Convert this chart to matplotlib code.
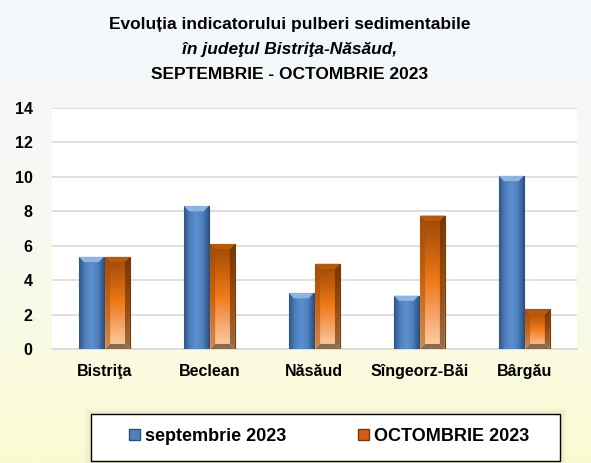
import numpy as np
import matplotlib.pyplot as plt
from matplotlib.colors import LinearSegmentedColormap
from matplotlib.patches import Patch, Rectangle

plt.rcParams['font.family'] = ['Liberation Sans', 'DejaVu Sans']

categories = ['Bistriţa', 'Beclean', 'Năsăud', 'Sîngeorz-Băi', 'Bârgău']
sept = [5.35, 8.3, 3.25, 3.1, 10.05]
octo = [5.35, 6.1, 4.95, 7.75, 2.3]
labels = ['septembrie 2023', 'OCTOMBRIE 2023']

fig = plt.figure(figsize=(5.91, 4.63), dpi=100)

# background gradient: light blue-white at top to pale yellow at bottom
bg = fig.add_axes([0, 0, 1, 1], zorder=-10)
grad = np.linspace(0, 1, 256).reshape(-1, 1)
bg_cmap = LinearSegmentedColormap.from_list('bg', ['#f4f7fc', '#f7f9f2', '#fbfbd2'])
bg.imshow(grad, aspect='auto', cmap=bg_cmap, extent=[0, 1, 0, 1])
bg.axis('off')

ax = fig.add_axes([0.088, 0.246, 0.888, 0.521])
ax.set_facecolor('white')
x = np.arange(len(categories))
w = 0.235
b1 = ax.bar(x - 0.125, sept, w, color='#4f81bd', edgecolor='#2c4d75', linewidth=0.8, zorder=3)
b2 = ax.bar(x + 0.125, octo, w, color='#e46c0a', edgecolor='#7a3a06', linewidth=0.8, zorder=3)

blue_cmap = LinearSegmentedColormap.from_list('bl', ['#2f5588', '#4f81bd', '#5b8fd0', '#4f81bd', '#2f5588'])
orange_v = LinearSegmentedColormap.from_list('or', ['#9a4a08', '#c75f0c', '#f07a18', '#f6a468', '#fcd0a8'])

for bar in b1:
    x0, h, bw = bar.get_x(), bar.get_height(), bar.get_width()
    img = ax.imshow(np.linspace(0, 1, 64).reshape(1, -1), cmap=blue_cmap, aspect='auto',
                    extent=[x0, x0 + bw, 0, h], zorder=3.5)
    img.set_clip_path(bar)
    # top bevel
    ax.fill([x0, x0 + bw, x0 + bw * 0.8, x0 + bw * 0.2], [h, h, h - 0.3, h - 0.3],
            color='#8fb4e3', zorder=4, lw=0)

for bar in b2:
    x0, h, bw = bar.get_x(), bar.get_height(), bar.get_width()
    img = ax.imshow(np.linspace(0, 1, 64).reshape(-1, 1), cmap=orange_v, aspect='auto',
                    extent=[x0, x0 + bw, 0, h], origin='upper', zorder=3.5)
    img.set_clip_path(bar)
    # darker side bevels
    ax.fill([x0, x0 + bw * 0.2, x0 + bw * 0.2, x0], [0, 0.3, h - 0.3, h],
            color='#a8500a', alpha=0.55, zorder=4, lw=0)
    ax.fill([x0 + bw, x0 + bw * 0.8, x0 + bw * 0.8, x0 + bw], [0, 0.3, h - 0.3, h],
            color='#5a2a04', alpha=0.6, zorder=4, lw=0)
    ax.fill([x0, x0 + bw, x0 + bw * 0.8, x0 + bw * 0.2], [h, h, h - 0.3, h - 0.3],
            color='#b85a0c', zorder=4, lw=0)
    ax.fill([x0, x0 + bw, x0 + bw * 0.8, x0 + bw * 0.2], [0, 0, 0.3, 0.3],
            color='#8a6a50', zorder=4, lw=0)

ax.set_xlim(-0.5, len(categories) - 0.5)
ax.set_ylim(0, 14)
ax.set_yticks(range(0, 15, 2))
ax.yaxis.grid(True, color='#d9d9d9', linewidth=1.2, zorder=0)
ax.set_axisbelow(True)
for s in ['top', 'right', 'left']:
    ax.spines[s].set_visible(False)
ax.spines['bottom'].set_color('#d9d9d9')
ax.spines['bottom'].set_linewidth(1.2)
ax.tick_params(length=0)
ax.set_xticks(x)
ax.set_xticklabels(categories, fontsize=11.5, fontweight='bold')
ax.tick_params(axis='x', pad=11)
ax.tick_params(axis='y', pad=14)
for t in ax.get_yticklabels():
    t.set_fontsize(11.5)
    t.set_fontweight('bold')

fig.text(0.49, 0.947, 'Evoluția indicatorului pulberi sedimentabile', ha='center', va='center',
         fontsize=12.5, fontweight='bold')
fig.text(0.49, 0.893, 'în judeţul Bistriţa-Năsăud,', ha='center', va='center',
         fontsize=12.5, fontweight='bold', style='italic')
fig.text(0.49, 0.839, 'SEPTEMBRIE - OCTOMBRIE 2023', ha='center', va='center',
         fontsize=12.5, fontweight='bold')

# legend box with soft shadow
for i, a in enumerate([0.10, 0.07, 0.04]):
    d = (i + 1) * 0.004
    fig.patches.append(Rectangle((0.154 - d, 0.004 - d), 0.794 + 2 * d, 0.102 + 2 * d,
                                 transform=fig.transFigure, facecolor='#b0b0a0',
                                 alpha=a, edgecolor='none', zorder=1))
fig.patches.append(Rectangle((0.154, 0.004), 0.794, 0.102, transform=fig.transFigure,
                             facecolor='white', edgecolor='black', linewidth=1.0, zorder=2))

handles = [Patch(facecolor='#4f81bd', edgecolor='#2c4d75'),
           Patch(facecolor='#d06010', edgecolor='#7a3a06')]
leg = fig.legend(handles, labels, loc='center', bbox_to_anchor=(0.557, 0.058, 0, 0),
                 ncol=2, prop={'weight': 'bold', 'size': 13},
                 frameon=False, handlelength=0.6, handleheight=0.6,
                 handletextpad=0.25, columnspacing=4.0)

fig.savefig('out.png', dpi=100)
